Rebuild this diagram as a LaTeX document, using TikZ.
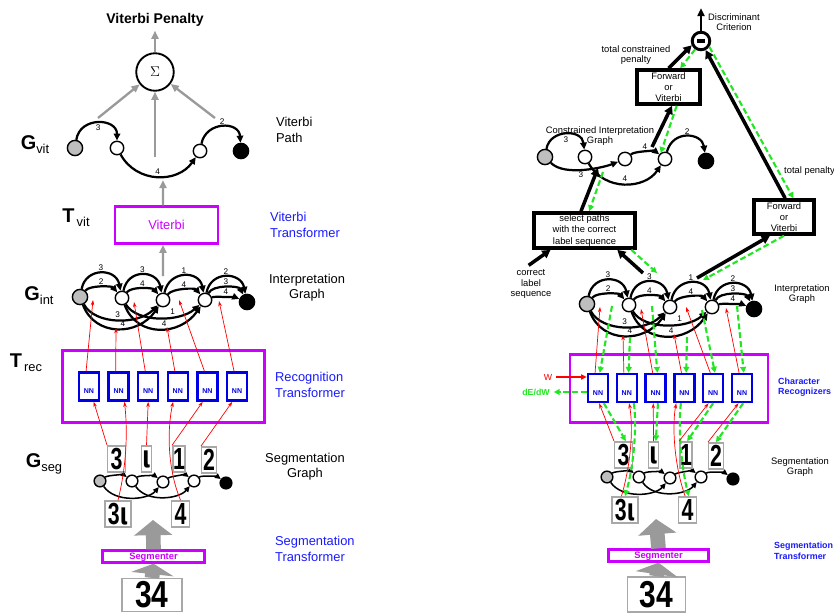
\documentclass[tikz,border=0pt]{standalone}
\usepackage{fontspec}
\setmainfont{Liberation Sans}
\newfontfamily\strokefont{DejaVu Sans}
\usepackage{graphicx}
\usetikzlibrary{arrows.meta}

\definecolor{trmag}    {HTML}{CC00FF}
\definecolor{trblue}   {HTML}{1A1AFF}
\definecolor{nnblue}   {HTML}{0000E6}
\definecolor{bpgreen}  {HTML}{22E622}
\definecolor{arrgray}  {HTML}{9A9A9A}
\definecolor{imggray}  {HTML}{A8A8A8}
\definecolor{startgray}{HTML}{BEBEBE}

\newcommand\hw[2][.7]{\scalebox{#1}[1]{#2}}
\newcommand\gsub[2]{{\fontsize{17}{17}\selectfont\bfseries #1}\raisebox{-3.5pt}{\fontsize{11}{11}\selectfont #2}}

% interpretation graph, start node at the origin
\newcommand\intgraph{%
  \node[vstart] (i0) at (0,0)   {};
  \node[vmid]   (i1) at (42,1)  {};
  \node[vmid]   (i2) at (83,3)  {};
  \node[vmid]   (i3) at (125,3) {};
  \node[vend]   (i4) at (167,5) {};
  \foreach \ea/\eb/\ta/\tb in {i0/i1/3/2,i1/i2/3/4,i2/i3/1/4}{
    \draw[garc] (\ea) .. controls +(6,-30) and +(-6,-30) .. (\eb) node[glab,midway,above]{\ta};
    \draw[garc] (\ea) .. controls +(10,-12) and +(-10,-12) .. (\eb) node[glab,midway,above]{\tb};
  }
  \draw[garc] (i3) .. controls +(6,-30) and +(-6,-30) .. (i4) node[glab,midway,above]{2};
  \draw[garc] (i3) .. controls +(8,-16) and +(-8,-16) .. (i4) node[glab,midway,above]{3};
  \draw[garc] (i3) .. controls +(10,-4) and +(-10,-4) .. (i4) node[glab,midway,above]{4};
  \draw[garc] (i0) .. controls +(15,28) and +(-25,25) .. (i2) node[glab,pos=.5,above]{3};
  \draw[garc] (i0) .. controls +(15,40) and +(-25,36) .. (i2) node[glab,pos=.56,above]{4};
  \draw[garc] (i1) .. controls +(15,25) and +(-25,22) .. (i3) node[glab,pos=.65,above]{1};
  \draw[garc] (i1) .. controls +(15,40) and +(-25,36) .. (i3) node[glab,pos=.55,above]{4};
  % where the recognizer outputs attach
  \foreach \k/\px/\py/\qx/\qy in {1/13/3/25/2,2/36/31/43/33,3/54/5/65/2,
                                  4/87/30/100/33,5/99/3/115/6,6/139/4/150/2}{
    \coordinate (p\k) at (\px,\py);
    \coordinate (q\k) at (\qx,\qy);
  }
}

% segmentation graph with its segment images, start node at the origin
\newcommand\seggraph{%
  \node[sstart] (s0) at (0,0)   {};
  \node[smid]   (s1) at (32,0)  {};
  \node[smid]   (s2) at (63,1)  {};
  \node[smid]   (s3) at (94,0)  {};
  \node[send]   (s4) at (126,2) {};
  \foreach \ea/\eb in {s0/s1,s1/s2,s2/s3,s3/s4}
    \draw[sarc] (\ea) .. controls +(8,-6) and +(-8,-6) .. (\eb);
  \draw[sarc] (s0) .. controls +(15,22) and +(-15,18) .. (s2);
  \draw[sarc] (s1) .. controls +(15,22) and +(-15,18) .. (s3);
  \node[img,minimum width=15pt]   (d3)  at (16.5,-22) {\hw{3}};
  \node[img,minimum width=9pt]    (dl)  at (46.5,-22) {\hw{{\strokefont ι}}};
  \node[img,minimum width=10.5pt] (d1)  at (79,-22)   {\hw{1}};
  \node[img,minimum width=12.5pt] (d2)  at (109,-21)  {\hw{2}};
  \node[img,minimum width=22.5pt] (d3l) at (18,33)    {\hw{3{\strokefont ι}}};
  \node[img,minimum width=15pt]   (d4)  at (80.5,33)  {\hw{4}};
}

\begin{document}
\begin{tikzpicture}[x=0.03cm,y=-0.03cm,
  vtx/.style={circle,draw,line width=1.2pt,inner sep=0pt,fill=white},
  vstart/.style={vtx,fill=startgray,minimum size=13pt},
  vmid/.style={vtx,minimum size=11.5pt},
  vend/.style={vtx,fill=black,minimum size=13pt},
  sstart/.style={vtx,fill=startgray,minimum size=10pt},
  smid/.style={vtx,minimum size=10pt},
  send/.style={vtx,fill=black,minimum size=10pt},
  garc/.style={-{Triangle[length=6pt,width=5.5pt]},line width=1.9pt},
  sarc/.style={-{Triangle[length=5pt,width=4.5pt]},line width=1.3pt},
  glab/.style={font=\fontsize{7}{7}\selectfont,inner sep=1pt},
  garr/.style={-{Triangle[length=7pt,width=6pt]},line width=2pt,arrgray},
  bigarr/.style={-{Triangle[length=13pt,width=32pt]},line width=12.5pt,arrgray},
  fwd/.style={-{Stealth[length=4.5pt,width=3pt]},line width=.6pt,red},
  bwd/.style={-{Triangle[length=5pt,width=5pt]},line width=1.8pt,bpgreen,
              dash pattern=on 5pt off 2.5pt},
  blk/.style={-{Triangle[length=7pt,width=7.5pt]},line width=3pt},
  trbox/.style={draw=trmag,line width=2.2pt},
  nn/.style={draw=nnblue,line width=2pt,minimum width=17pt,minimum height=24pt,
             inner sep=0pt,text=nnblue,font=\fontsize{6}{6}\selectfont\bfseries,
             text height=12pt,text depth=0pt},
  img/.style={draw=imggray,line width=1.2pt,fill=white,inner sep=0pt,
              minimum height=22.5pt,font=\fontsize{26}{26}\selectfont\bfseries},
  opbox/.style={draw,line width=3pt,align=center,inner sep=1pt,
                font=\fontsize{8}{9.5}\selectfont},
  big/.style={font=\fontsize{11}{13}\selectfont,align=left},
  small/.style={font=\fontsize{8}{9}\selectfont,align=center}
]
\useasboundingbox (0,0) rectangle (834,616);

%% left half: recognition with the Viterbi transformer
\begin{scope}[name prefix=L-]
\node[font=\fontsize{12}{14}\selectfont\bfseries] (vpen) at (155,20) {Viterbi Penalty};
\node[circle,draw,line width=1.6pt,minimum size=32pt,inner sep=0pt,font=\large] (sig) at (155,72) {$\Sigma$};
\draw[garr] (sig) -- (vpen);

\node[vstart] (v0) at (75,148)  {};
\node[vmid]   (v1) at (117,148) {};
\node[vmid]   (v2) at (200,151) {};
\node[vend]   (v3) at (241,151) {};
\draw[garc] (v0) .. controls +(5,-32) and +(0,-30) .. (v1) node[glab,midway,below]{3};
\draw[garc] (v1) .. controls +(20,36) and +(-22,32) .. (v2) node[glab,midway,above]{4};
\draw[garc] (v2) .. controls +(6,-30) and +(-2,-30) .. (v3) node[glab,midway,above]{2};
\coordinate (ga1) at (98,118);
\coordinate (ga2) at (155,157);
\coordinate (ga3) at (215,118);
\coordinate (ga4) at (163,180);
\coordinate (ga5) at (163,276);
\foreach \c in {ga1,ga2,ga3} \draw[garr] (\c) -- (sig);

\node (gvit) at (35,145) {\gsub{G}{vit}};
\node[big,anchor=west] (vpath) at (272,130) {Viterbi\\Path};
\node (tvit) at (76,218) {\gsub{T}{\,vit}};
\node[trbox,minimum width=88pt,minimum height=31.5pt,text=trmag,
      font=\fontsize{11}{13}\selectfont] (vitbox) at (166.5,225) {Viterbi};
\node[big,text=trblue,anchor=west] (vtrans) at (266,225) {Viterbi\\Transformer};
\draw[garr] ([xshift=-3pt]vitbox.north) -- (ga4);
\draw[garr] (ga5) -- ([xshift=-3pt]vitbox.south);

\begin{scope}[shift={(80,297)}] \intgraph \end{scope}
\node (gint) at (39,296) {\gsub{G}{int}};
\node[big,align=center] (igraph) at (307,288) {Interpretation\\Graph};

\node (trec) at (26,363) {\gsub{T}{\,rec}};
\node[trbox,minimum width=172pt,minimum height=61pt] (recbox) at (163.5,386.5) {};
\foreach \i in {1,...,6} \node[nn] (nn\i) at ({89+29.6*(\i-1)},386.5) {NN};
\node[big,text=trblue,anchor=west] (rtrans) at (271,385) {Recognition\\Transformer};
\foreach \i in {1,...,6} \draw[fwd] ([xshift=-2.5pt]nn\i.north) -- (p\i);

\begin{scope}[shift={(100,481)}] \seggraph \end{scope}
\node (gseg) at (44,464) {\gsub{G}{seg}};
\node[big,align=center] (sgraph) at (305,467) {Segmentation\\Graph};
\draw[fwd] (d3.north west) -- ([xshift=4pt]nn1.south);
\draw[fwd] (d3l.north) .. controls (128,460) and (127,425) .. ([xshift=5pt]nn2.south);
\draw[fwd] (dl.north) -- (nn3.south);
\draw[fwd] (d4.north) .. controls (166,465) and (168,425) .. ([xshift=-4pt]nn4.south);
\draw[fwd] (d1.north west) -- ([xshift=-4pt]nn5.south);
\draw[fwd] (d2.north west) -- ([xshift=-4pt]nn6.south);

\node[trbox,minimum width=87pt,minimum height=10pt,inner sep=0pt,text=trmag,
      font=\fontsize{8}{8}\selectfont\bfseries,text height=6pt,text depth=1.5pt]
      (segbox) at (153.5,556.5) {Segmenter};
\node[big,text=trblue,anchor=west] (strans) at (271,549) {Segmentation\\Transformer};
\node[img,minimum width=51.5pt,minimum height=28pt,font=\fontsize{32}{32}\selectfont\bfseries]
      (img34) at (152,595) {\hw[.8]{34}};
\coordinate (segtip) at (153,520);
\draw[bigarr] (segbox.north) -- (segtip);
\draw[bigarr,-{Triangle[length=9pt,width=36pt]}] (img34.north) -- (segbox.south);
\end{scope}

%% right half: discriminative training
\begin{scope}[name prefix=R-]
\node[small] (crit) at (734,22) {Discriminant\\Criterion};
\node[circle,draw,line width=2.5pt,minimum size=15pt,inner sep=0pt] (mc) at (701,41) {\rule{7pt}{3pt}};
\coordinate (crtop) at (701,8);
\draw[-{Triangle[length=7pt,width=6pt]},line width=2.2pt] (mc) -- (crtop);
\node[small] (tcp) at (636,55) {total constrained\\penalty};
\node[small,anchor=west,inner sep=0pt] (tpen) at (784,171) {total penalty};
\node[opbox,minimum width=53.5pt,minimum height=29pt] (fv1) at (668.5,87) {Forward\\or\\Viterbi};
\node[opbox,minimum width=51pt,minimum height=29pt] (fv2) at (784,217) {Forward\\or\\Viterbi};
\node[opbox,minimum width=86pt,minimum height=30pt] (sel) at (584.5,230.5)
      {select paths\\with the correct\\label sequence};
\node[small] (cls) at (531,284) {correct\\label\\sequence};

% constrained interpretation graph
\node[small] (cig) at (600,136) {Constrained Interpretation\\Graph};
\node[vstart] (c0) at (545,157) {};
\node[vmid]   (c1) at (585,157) {};
\node[vmid]   (c2) at (625,159) {};
\node[vmid]   (c3) at (665,159) {};
\node[vend]   (c4) at (706,161) {};
\draw[garc] (c0) .. controls +(5,-28) and +(-3,-28) .. (c1) node[glab,midway,below]{3};
\draw[garc] (c0) .. controls +(20,20) and +(-20,8) .. (c2) node[glab,pos=.45,below]{3};
\draw[garc] (c1) .. controls +(20,35) and +(-20,30) .. (c3) node[glab,midway,above]{4};
\draw[garc] (c2) .. controls +(10,-8) and +(-10,-8) .. (c3) node[glab,midway,above]{4};
\draw[garc] (c3) .. controls +(8,-30) and +(-4,-28) .. (c4) node[glab,midway,above]{2};

\begin{scope}[shift={(587,304)}] \intgraph \end{scope}
\node[small] (igraph) at (802,294) {Interpretation\\Graph};

% forward (black) and backward (green) flow
\coordinate (cb1) at (652,147);
\coordinate (cb2) at (598,168);
\coordinate (cg2) at (603,172);
\coordinate (ib1) at (643,273);
\coordinate (ig1) at (657,273);
\coordinate (ib2) at (697,278);
\coordinate (ig2) at (703,280);
\draw[blk] (fv1.north) -- (mc.205);
\draw[bwd] (mc.235) -- ([xshift=10pt]fv1.north);
\draw[blk] ([xshift=1pt]fv2.north) -- (mc.-63);
\draw[bwd] (mc.-35) -- ([xshift=8pt]fv2.north);
\draw[blk] (cb1) -- ([xshift=3pt]fv1.south);
\draw[bwd] ([xshift=7pt]fv1.south) -- (c3.125);
\draw[blk] ([xshift=-3pt]sel.north) -- (cb2);
\draw[bwd] (cg2) -- ([xshift=4pt]sel.north);
\draw[blk] ([xshift=-2pt]cls.north) -- ([xshift=-29pt]sel.south);
\draw[blk] (ib1) -- ([xshift=28pt]sel.south);
\draw[bwd] ([xshift=40pt]sel.south) -- (ig1);
\draw[blk] (ib2) -- ([xshift=-12pt]fv2.south);
\draw[bwd] (fv2.south) -- (ig2);

\node[trbox,minimum width=169pt,minimum height=58pt] (recbox) at (669,388.5) {};
\foreach \i in {1,...,6} \node[nn] (nn\i) at ({598+28.8*(\i-1)},388) {NN};
\node[font=\fontsize{7.6}{9}\selectfont\bfseries,text=trblue,align=left,anchor=west,inner sep=0pt]
      (crec) at (778,387) {Character\\Recognizers};
\node[font=\fontsize{7.5}{8}\selectfont,text=red] (wnode) at (548,377) {W};
\node[font=\fontsize{7.5}{8}\selectfont\bfseries,text=bpgreen] (dedw) at (536,392) {dE/dW};
\draw[fwd,line width=1.2pt,-{Triangle[length=5pt,width=4.5pt]}] (wnode.east) -- (nn1.west |- wnode.east);
\draw[bwd] (nn1.west |- dedw.east) -- (dedw.east);
\foreach \i in {1,...,6}{
  \draw[fwd] ([xshift=-2.5pt]nn\i.north) -- (p\i);
  \draw[bwd] (q\i) -- ([xshift=1.5pt]nn\i.north);
}

\begin{scope}[shift={(607,477)}] \seggraph \end{scope}
\node[small] (sgraph) at (800,467) {Segmentation\\Graph};
\draw[fwd] (d3.north west) -- ([xshift=1pt]nn1.south);
\draw[bwd] ([xshift=5pt]nn1.south) -- ([xshift=2pt]d3.north);
\draw[fwd] ([xshift=-3pt]d3l.north) .. controls (632,460) and (633,425) .. ([xshift=2pt]nn2.south);
\draw[bwd] ([xshift=6pt]nn2.south) .. controls (637,425) and (634,465) .. (d3l.north);
\draw[fwd] (dl.north) -- ([xshift=-2pt]nn3.south);
\draw[bwd] ([xshift=2pt]nn3.south) -- ([xshift=2pt]dl.north);
\draw[fwd] ([xshift=-2pt]d4.north) .. controls (674,465) and (672,425) .. ([xshift=-7pt]nn4.south);
\draw[bwd] ([xshift=-3pt]nn4.south) .. controls (678,425) and (681,465) .. ([xshift=1pt]d4.north);
\draw[fwd] (d1.north west) -- ([xshift=-4pt]nn5.south);
\draw[bwd] ([xshift=0pt]nn5.south) -- ([xshift=1pt]d1.north);
\draw[fwd] (d2.north west) -- ([xshift=-3pt]nn6.south);
\draw[bwd] ([xshift=1pt]nn6.south) -- (d2.north);

\node[trbox,minimum width=85pt,minimum height=10pt,inner sep=0pt,text=trmag,
      font=\fontsize{8}{8}\selectfont\bfseries,text height=6pt,text depth=1.5pt]
      (segbox) at (658.5,555.5) {Segmenter};
\node[font=\fontsize{7.6}{9}\selectfont\bfseries,text=trblue,align=left,anchor=west,inner sep=0pt]
      (strans) at (774,551) {Segmentation\\Transformer};
\node[img,minimum width=50pt,minimum height=30pt,font=\fontsize{32}{32}\selectfont\bfseries]
      (img34) at (656.5,594.5) {\hw[.8]{34}};
\coordinate (segtip) at (656,519);
\draw[bigarr] (segbox.north) -- (segtip);
\draw[bigarr,-{Triangle[length=10pt,width=36pt]}] (img34.north) -- (segbox.south);
\end{scope}
\end{tikzpicture}
\end{document}
